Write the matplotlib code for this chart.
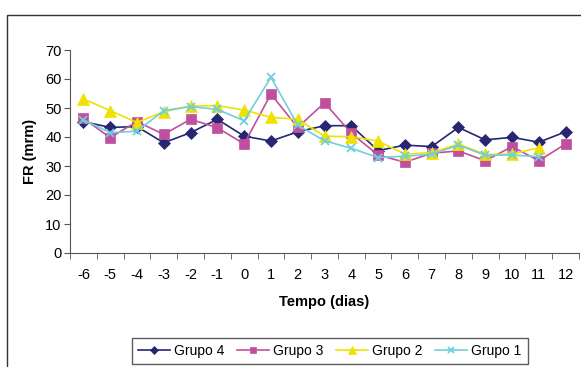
import matplotlib.pyplot as plt
import numpy as np
from matplotlib.patches import Rectangle

plt.rcParams['font.family'] = ['Liberation Sans', 'DejaVu Sans']

# Days relative to treatment
dias = [-6, -5, -4, -3, -2, -1, 0, 1, 2, 3, 4, 5, 6, 7, 8, 9, 10, 11, 12]

# Respiratory rate (mrm) per group; NaN where no measurement
grupo4 = [45.3, 43.3, 43.6, 38.0, 41.5, 46.1, 40.3, 38.6, 41.8, 43.9, 43.9,
          35.3, 37.2, 36.7, 43.3, 39.0, 39.9, 38.2, 41.8]
grupo3 = [46.4, 39.8, 45.3, 40.9, 46.1, 43.2, 37.6, 54.8, 43.3, 51.8, 41.3,
          33.8, 31.3, 34.4, 35.2, 31.8, 36.7, 31.8, 37.6]
grupo2 = [53.1, 49.1, 45.0, 48.7, 50.7, 50.8, 49.3, 46.8, 46.1, 40.3, 40.1,
          38.6, 34.1, 34.6, 37.6, 34.0, 34.1, 36.3, np.nan]
grupo1 = [45.9, 41.5, 42.0, 49.1, 50.5, 49.5, 45.6, 60.6, 44.1, 38.7, 36.1,
          32.9, 33.4, 34.0, 37.2, 33.7, 33.8, 33.2, np.nan]

W, H = 581, 367
fig = plt.figure(figsize=(W / 100, H / 100), dpi=100)

# outer chart frame (runs off the right and bottom edges)
fig.patches.append(Rectangle((7 / W, -0.05), 1.1, (H - 15) / H + 0.05,
                             transform=fig.transFigure, fill=False,
                             edgecolor='#333333', linewidth=1.0))

ax = fig.add_axes([70 / W, (H - 253) / H, (579 - 70) / W, (253 - 50) / H])

x = np.arange(len(dias))
series = [
    ('Grupo 4', grupo4, '#262673', 'D', 6.5),
    ('Grupo 3', grupo3, '#C0509E', 's', 7),
    ('Grupo 2', grupo2, '#F0E200', '^', 8),
    ('Grupo 1', grupo1, '#70CEDE', 'x', 6),
]
for name, vals, col, mk, ms in series:
    ax.plot(x, vals, color=col, marker=mk, markersize=ms, linewidth=1.2,
            markeredgewidth=1.3 if mk == 'x' else 0.5, label=name)

ax.set_xlim(-0.5, len(dias) - 0.5)
ax.set_ylim(0, 70)
ax.set_yticks(range(0, 71, 10))
ax.set_xticks(x)
ax.set_xticklabels([str(d) for d in dias])
ax.set_xticks(np.arange(-0.5, len(dias), 1), minor=True)
ax.tick_params(axis='x', which='major', length=0, pad=11, labelsize=10.5)
ax.tick_params(axis='x', which='minor', length=4, direction='out',
               color='#555555')
ax.tick_params(axis='y', length=4, direction='out', color='#555555',
               labelsize=10.5, pad=2)

for side in ['top', 'right']:
    ax.spines[side].set_visible(False)
for side in ['left', 'bottom']:
    ax.spines[side].set_color('#555555')

ax.set_xlabel('Tempo (dias)', fontsize=10.5, fontweight='bold', labelpad=9)
ax.set_ylabel('FR (mrm)', fontsize=10.5, fontweight='bold', labelpad=6)

leg = fig.legend(loc='center', bbox_to_anchor=(330 / W, 1 - 351 / H),
                 ncol=4, frameon=True, fancybox=False, fontsize=10,
                 handlelength=2.3, columnspacing=0.9, handletextpad=0.3,
                 markerscale=0.65, borderpad=0.45)
leg.get_frame().set_edgecolor('#333333')
leg.get_frame().set_linewidth(1.0)

fig.savefig('out.png', dpi=100)
